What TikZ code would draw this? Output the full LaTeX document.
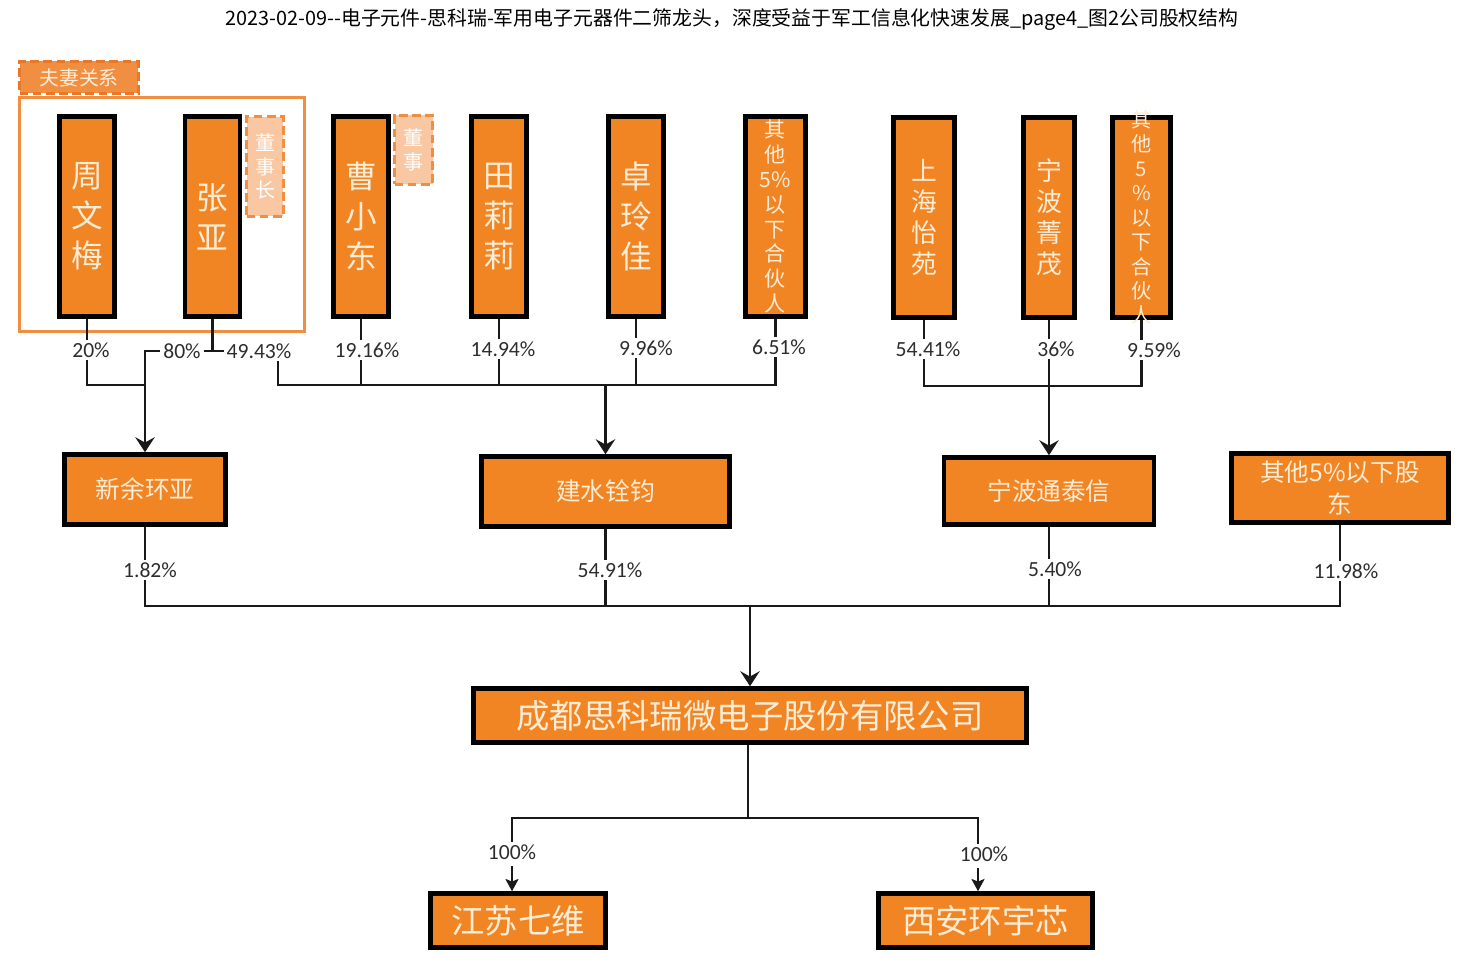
\documentclass[tikz,border=0pt]{standalone}
\usepackage{fontspec}
\setmainfont{Carlito}
\newfontfamily\cjk{Noto Sans CJK SC}
\usetikzlibrary{arrows.meta}

\definecolor{orange1}{RGB}{241,133,36}
\definecolor{orange2}{RGB}{240,142,66}
\definecolor{orange3}{RGB}{234,118,40}
\definecolor{peche}{RGB}{249,200,162}
\definecolor{creme}{RGB}{253,236,214}
\definecolor{gris}{RGB}{45,45,45}

\tikzset{
    boite/.style={draw=black, line width=2.6pt, fill=orange1, text=creme,
        inner sep=0pt, align=center},
    pers/.style={boite, minimum width=1.1cm, minimum height=4cm,
        font=\cjk\fontsize{18}{22.7}\selectfont},
    soc/.style={boite, minimum height=1.4cm, font=\cjk\fontsize{14}{18}\selectfont},
    etiq/.style={draw=orange2, dash pattern=on 5pt off 2.5pt, line width=1.8pt,
        fill=peche, text=white, inner sep=0pt, align=center,
        font=\cjk\fontsize{11.3}{13.6}\selectfont},
    pct/.style={text=gris, inner sep=1.5pt, font=\fontsize{12.3}{14}\selectfont},
    lien/.style={line width=1.2pt, draw=black!90},
    fleche/.style={lien, line width=1.5pt, -{Stealth[length=8.5pt, width=11pt, inset=3pt]}},
    flechette/.style={lien, line width=1pt, -{Stealth[length=7pt, width=7.5pt, inset=1.5pt]}},
}

\begin{document}
\begin{tikzpicture}[x=0.02cm, y=-0.02cm]
    \useasboundingbox (0,0) rectangle (1464,955);
    % Titre
    \node[font=\cjk\fontsize{11.3}{13}\selectfont] (titre) at (732,20)
        {2023-02-09--电子元件-思科瑞-军用电子元器件二筛龙头，深度受益于军工信息化快速发展\_page4\_图2公司股权结构};

    % Couple
    \draw[orange2, line width=1.8pt] (19.5,97.5) rectangle (304.5,331.5);
    \node[etiq, fill=orange2, draw=orange3, text=creme, minimum width=2.38cm,
        minimum height=0.64cm] (couple) at (79,77.5) {夫妻关系};

    % Personnes
    \node[pers] (zwm) at (87,216.5) {周\\文\\梅};
    \node[pers] (zy) at (212.5,216.5) {张\\亚};
    \node[etiq, minimum width=0.74cm, minimum height=2cm] (dsz) at (265,166.5) {董\\事\\长};
    \node[pers] (cxd) at (361,216.5) {曹\\小\\东};
    \node[etiq, minimum width=0.76cm, minimum height=1.38cm] (ds) at (413.5,150) {董\\事};
    \node[pers] (tll) at (499,216.5) {田\\莉\\莉};
    \node[pers] (zlj) at (636,216.5) {卓\\玲\\佳};
    \node[pers, minimum width=1.2cm, font=\cjk\fontsize{12}{14.2}\selectfont] (hhr1)
        at (775.5,216.5) {其\\他\\5\%\\以\\下\\合\\伙\\人};
    \node[pers, minimum width=1.22cm, font=\cjk\fontsize{14.7}{17.6}\selectfont] (shyy)
        at (924,217.5) {上\\海\\怡\\苑};
    \node[pers, minimum width=1.02cm, font=\cjk\fontsize{14.7}{17.6}\selectfont] (nbjm)
        at (1049,217.5) {宁\\波\\菁\\茂};
    \node[pers, minimum width=1.16cm, label={[text=creme, align=center,
        font=\cjk\fontsize{11.5}{13.9}\selectfont]center:其\\他\\5\\\%\\以\\下\\合\\伙\\人}]
        (hhr2) at (1141.5,217.5) {};

    % Societes
    \node[soc, minimum width=3.22cm] (xyhy) at (145,489.5) {新余环亚};
    \node[soc, minimum width=4.96cm] (jsqj) at (605.5,491.5) {建水铨钧};
    \node[soc, minimum width=4.2cm, minimum height=1.34cm] (nbtx) at (1049,491) {宁波通泰信};
    \node[soc, minimum width=4.34cm, minimum height=1.38cm] (qtgd) at (1340,488) {其他5\%以下股\\东};
    \node[soc, minimum width=11.06cm, minimum height=1.08cm, font=\cjk\fontsize{19}{22}\selectfont]
        (skr) at (750,715.5) {成都思科瑞微电子股份有限公司};
    \node[soc, minimum width=3.5cm, minimum height=1.08cm, font=\cjk\fontsize{19}{22}\selectfont]
        (jsqw) at (518,920.5) {江苏七维};
    \node[soc, minimum width=4.28cm, minimum height=1.08cm, font=\cjk\fontsize{19}{22}\selectfont]
        (xahyx) at (985.5,920.5) {西安环宇芯};

    % Parts
    \node[pct] (p20) at (91,350) {20\%};
    \node[pct] (p80) at (182,351) {80\%};
    \node[pct] (p4943) at (259,351) {49.43\%};
    \node[pct] (p1916) at (367,350) {19.16\%};
    \node[pct] (p1494) at (503,349) {14.94\%};
    \node[pct] (p996) at (646,348) {9.96\%};
    \node[pct] (p651) at (779,347) {6.51\%};
    \node[pct] (p5441) at (928,349) {54.41\%};
    \node[pct] (p36) at (1056,349) {36\%};
    \node[pct] (p959) at (1154,350) {9.59\%};
    \node[pct] (p182) at (150,570) {1.82\%};
    \node[pct] (p5491) at (610,570) {54.91\%};
    \node[pct] (p540) at (1055,569) {5.40\%};
    \node[pct] (p1198) at (1346,571) {11.98\%};
    \node[pct] (p100a) at (512,852) {100\%};
    \node[pct] (p100b) at (984,854) {100\%};

    % Vers Xinyu Huanya
    \coordinate (j1) at (145,385);
    \draw[lien] (zwm.south) -- (zwm.south |- p20.north);
    \draw[lien] (zwm.south |- p20.south) |- (j1);
    \draw[lien] (zy.south) -- (zy.south |- p80.east);
    \draw[lien] (p80.east) -- (p4943.west);
    \draw[fleche] (p80.west) -| (xyhy.north);

    % Vers Jianshui Quanjun
    \coordinate (b1) at (278,385);
    \draw[lien] (b1 |- p4943.south) -- (b1) -- (hhr1.south |- b1) -- (hhr1.south |- p651.south);
    \draw[lien] (cxd.south) -- (cxd.south |- p1916.north);
    \draw[lien] (cxd.south |- p1916.south) -- (cxd.south |- b1);
    \draw[lien] (tll.south) -- (tll.south |- p1494.north);
    \draw[lien] (tll.south |- p1494.south) -- (tll.south |- b1);
    \draw[lien] (zlj.south) -- (zlj.south |- p996.north);
    \draw[lien] (zlj.south |- p996.south) -- (zlj.south |- b1);
    \draw[lien] (hhr1.south) -- (hhr1.south |- p651.north);
    \draw[fleche] (jsqj.north |- b1) -- (jsqj.north);

    % Vers Ningbo Tongtaixin
    \coordinate (b2) at (1049,386);
    \draw[lien] (shyy.south) -- (shyy.south |- p5441.north);
    \draw[lien] (nbjm.south) -- (nbjm.south |- p36.north);
    \draw[lien] (hhr2.south) -- (hhr2.south |- p959.north);
    \draw[lien] (shyy.south |- p5441.south) |- (b2) -| (hhr2.south |- p959.south);
    \draw[fleche] (nbjm.south |- p36.south) -- (nbtx.north);

    % Vers la societe
    \coordinate (b3) at (750,606);
    \draw[lien] (xyhy.south) -- (xyhy.south |- p182.north);
    \draw[lien] (jsqj.south) -- (jsqj.south |- p5491.north);
    \draw[lien] (nbtx.south) -- (nbtx.south |- p540.north);
    \draw[lien] (qtgd.south) -- (qtgd.south |- p1198.north);
    \draw[lien] (xyhy.south |- p182.south) |- (b3) -| (qtgd.south |- p1198.south);
    \draw[lien] (jsqj.south |- p5491.south) -- (jsqj.south |- b3);
    \draw[lien] (nbtx.south |- p540.south) -- (nbtx.south |- b3);
    \draw[fleche] (b3) -- (skr.north);

    % Filiales
    \coordinate (b4) at (748,818);
    \coordinate (f1) at (512,818);
    \coordinate (f2) at (978,818);
    \draw[lien, line width=0.9pt] (skr.south -| b4) -- (b4);
    \draw[lien, line width=0.9pt] (f1 |- p100a.north) -- (f1) -- (f2) -- (f2 |- p100b.north);
    \draw[flechette] (f1 |- p100a.south) ++(0,4) -- (f1 |- jsqw.north);
    \draw[flechette] (f2 |- p100b.south) ++(0,4) -- (f2 |- xahyx.north);
\end{tikzpicture}
\end{document}
